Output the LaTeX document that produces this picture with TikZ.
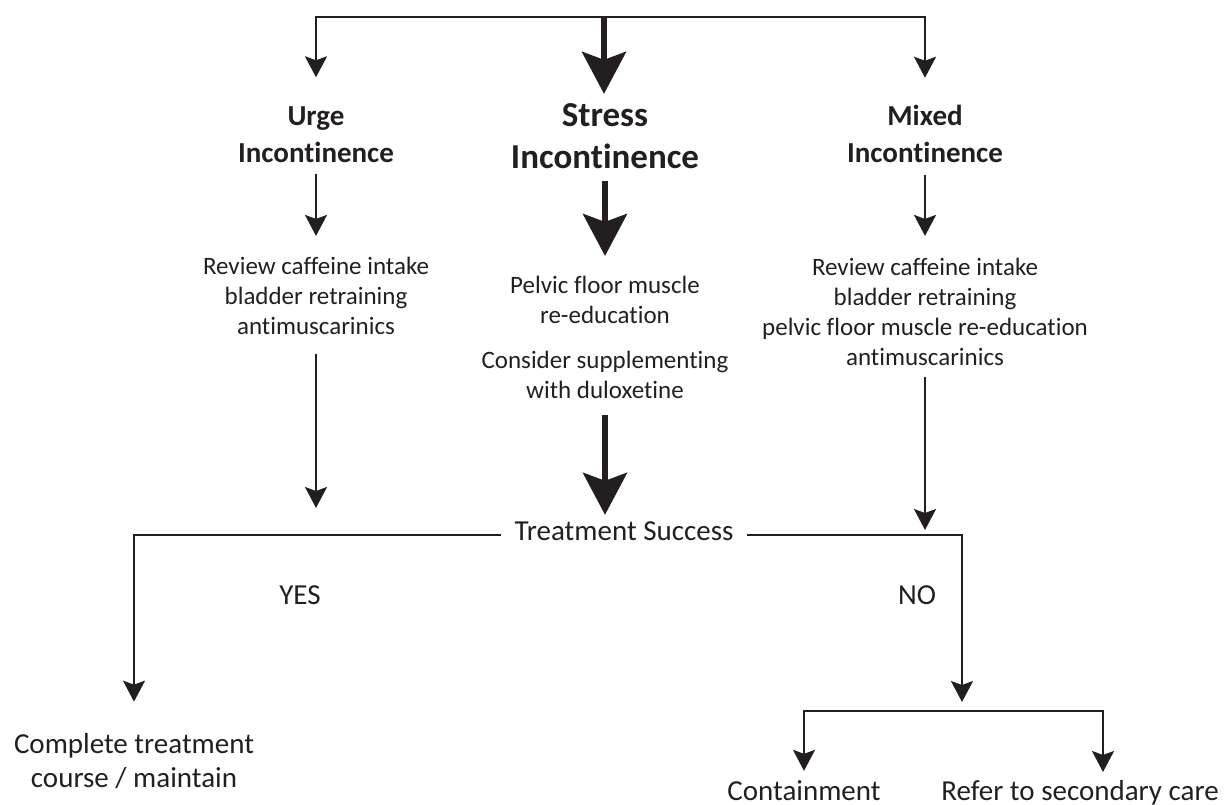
\documentclass[tikz,border=0pt]{standalone}
\usepackage{fontspec}
\setmainfont{Carlito}[Ligatures=NoCommon]
\usetikzlibrary{arrows.meta, positioning}
\definecolor{ink}{HTML}{231F20}

\begin{document}
\begin{tikzpicture}[x=1pt, y=-1pt,
    link/.style={draw=ink, line width=2.2pt},
    arr/.style={link, -{Stealth[length=21pt, width=22pt, inset=4pt]}},
    bigarr/.style={draw=ink, line width=5.5pt, -{Stealth[length=42pt, width=44pt, inset=8pt]}},
    headtxt/.style={font=\bfseries\fontsize{29}{37}\selectfont, align=center, inner sep=0pt, anchor=base, text=ink},
    bighead/.style={headtxt, font=\bfseries\fontsize{35}{42}\selectfont},
    bodytxt/.style={font=\fontsize{25}{30}\selectfont, align=center, inner sep=0pt, anchor=base, text=ink},
    outtxt/.style={font=\fontsize{29}{34}\selectfont, align=center, inner sep=0pt, anchor=base, text=ink}]

    \useasboundingbox (0,0) rectangle (1225,805);

    % Top bar
    \coordinate (bar-l) at (316,17);
    \coordinate (bar-m) at (604,17);
    \coordinate (bar-r) at (925,17);
    \draw[link, line cap=rect] (bar-l) -- (bar-r);

    % Types (base = last line)
    \node[headtxt] (urge)   at (316,163) {Urge\\Incontinence};
    \node[bighead] (stress) at (605,168) {Stress\\Incontinence};
    \node[headtxt] (mixed)  at (925,163) {Mixed\\Incontinence};

    \draw[arr, shorten >=29.7pt] (bar-l) -- (urge.north);
    \draw[bigarr, shorten >=9pt] (bar-m) -- (bar-m |- stress.north);
    \draw[arr, shorten >=27.7pt] (bar-r) -- (mixed.north);

    % First-line treatment
    \node[bodytxt] (urgetx)  at (316,334) {Review caffeine intake\\bladder retraining\\antimuscarinics};
    \node[bodytxt] (pelvic)  at (605,323) {Pelvic floor muscle\\re-education};
    \node[bodytxt] (dulox)   at (605,398) {Consider supplementing\\with duloxetine};
    \node[bodytxt] (mixedtx) at (925,365) {Review caffeine intake\\bladder retraining\\pelvic floor muscle re-education\\antimuscarinics};

    \draw[arr, shorten <=11pt, shorten >=20.5pt] (urge) -- (urgetx);
    \draw[bigarr, shorten <=13pt, shorten >=19.5pt] (stress.south) -- (stress.south |- pelvic.north);
    \draw[arr, shorten <=12pt, shorten >=21.5pt] (mixed) -- (mixedtx);

    % Outcome
    \node[outtxt, text height=10pt, text depth=0pt, inner xsep=13pt] (success) at (624,540) {Treatment Success};
    \coordinate (urge-out) at (316,508);
    \draw[arr, shorten <=20pt] (urgetx.south) -- (urge-out);
    \draw[bigarr, shorten <=17pt, shorten >=15pt] (dulox.south) -- (dulox.south |- success.north);
    \draw[arr, shorten <=12pt, shorten >=5pt] (mixedtx.south) -- (mixedtx.south |- success.east);

    \node[outtxt] (yes)      at (300,604) {YES};
    \node[outtxt] (no)       at (917,604) {NO};
    \node[outtxt] (complete) at (134,787) {Complete treatment\\course / maintain};
    \node[outtxt] (contain)  at (804,800) {Containment};
    \node[outtxt] (refer)    at (1080,800) {Refer to secondary care};

    \coordinate (split) at (962,711);
    \coordinate (refer-in) at (1103,772);
    \draw[arr, shorten >=31pt] (success.west) -| (complete.north);
    \draw[arr, shorten >=9pt] (success.east) -| (split);
    \draw[arr, shorten >=9pt] (split) -| (contain.north);
    \draw[arr] (split) -| (refer-in);

\end{tikzpicture}
\end{document}
